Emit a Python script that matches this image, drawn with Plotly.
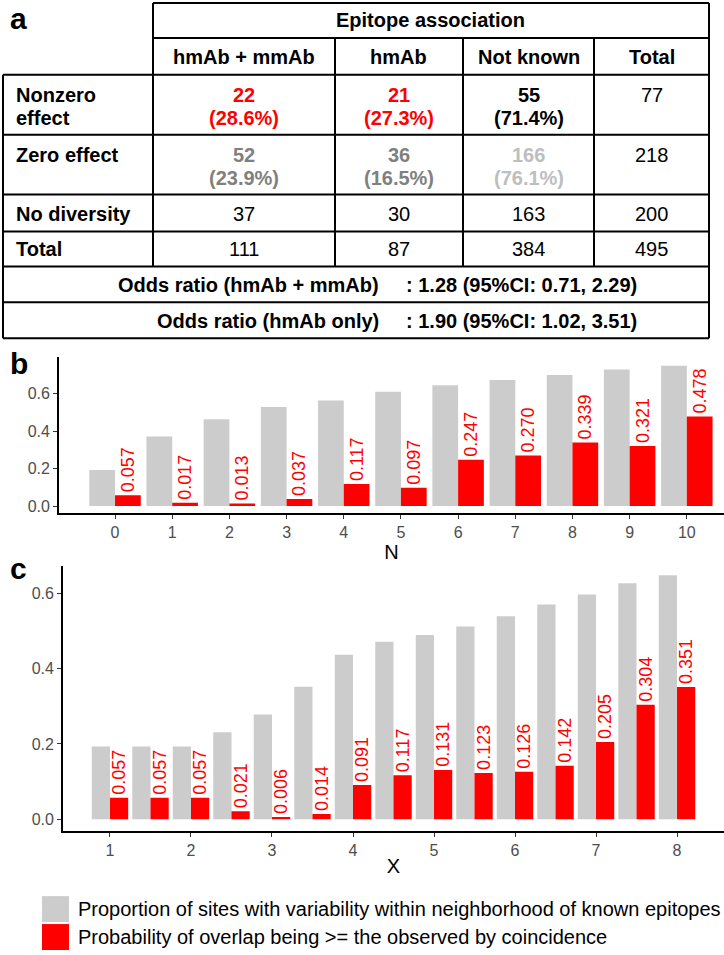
import plotly.graph_objects as go

# ---------------- data ----------------
col_headers = ["hmAb + mmAb", "hmAb", "Not known", "Total"]
row_labels = ["Nonzero<br>effect", "Zero effect", "No diversity", "Total"]
nonzero_counts = [22, 21, 55, 77]
nonzero_pct = ["(28.6%)", "(27.3%)", "(71.4%)", ""]
zero_counts = [52, 36, 166, 218]
zero_pct = ["(23.9%)", "(16.5%)", "(76.1%)", ""]
nodiv_counts = [37, 30, 163, 200]
total_counts = [111, 87, 384, 495]
odds_labels = ["Odds ratio (hmAb + mmAb)", "Odds ratio (hmAb only)"]
odds_values = [": 1.28 (95%CI: 0.71, 2.29)", ": 1.90 (95%CI: 1.02, 3.51)"]

b_N = [0, 1, 2, 3, 4, 5, 6, 7, 8, 9, 10]
b_prop = [0.193, 0.372, 0.464, 0.529, 0.564, 0.611, 0.646, 0.673, 0.700, 0.730, 0.750]
b_prob = [0.057, 0.017, 0.013, 0.037, 0.117, 0.097, 0.247, 0.270, 0.339, 0.321, 0.478]

c_X = [1, 1.5, 2, 2.5, 3, 3.5, 4, 4.5, 5, 5.5, 6, 6.5, 7, 7.5, 8]
c_prop = [0.193, 0.193, 0.193, 0.231, 0.278, 0.352, 0.437, 0.471, 0.489, 0.512,
          0.539, 0.570, 0.597, 0.627, 0.648]
c_prob = [0.057, 0.057, 0.057, 0.021, 0.006, 0.014, 0.091, 0.117, 0.131, 0.123,
          0.126, 0.142, 0.205, 0.304, 0.351]

legend_labels = ["Proportion of sites with variability within neighborhood of known epitopes",
                 "Probability of overlap being >= the observed by coincidence"]

# ---------------- style ----------------
W, H = 724, 955
FONT = "Liberation Sans, Arial, Helvetica, sans-serif"
GREY = "#CCCCCC"
RED = "#FF0000"
DARKGREY = "#808080"
LIGHTGREY = "#BEBEBE"


def px(x):
    return x / W


def py(y):
    return 1 - y / H


fig = go.Figure()

# ---------------- bars ----------------
fig.add_trace(go.Bar(x=b_N, y=b_prop, marker_color=GREY, marker_line_width=0,
                     xaxis="x", yaxis="y", showlegend=False, hoverinfo="skip"))
fig.add_trace(go.Bar(x=b_N, y=b_prob, marker_color=RED, marker_line_width=0,
                     text=[f"{v:.3f}" for v in b_prob], textposition="outside",
                     textangle=-90, constraintext="none", cliponaxis=False,
                     textfont=dict(color=RED, size=18, family=FONT),
                     xaxis="x", yaxis="y", showlegend=False, hoverinfo="skip"))
fig.add_trace(go.Bar(x=c_X, y=c_prop, marker_color=GREY, marker_line_width=0,
                     xaxis="x2", yaxis="y2", showlegend=False, hoverinfo="skip"))
fig.add_trace(go.Bar(x=c_X, y=c_prob, marker_color=RED, marker_line_width=0,
                     text=[f"{v:.3f}" for v in c_prob], textposition="outside",
                     textangle=-90, constraintext="none", cliponaxis=False,
                     textfont=dict(color=RED, size=18, family=FONT),
                     xaxis="x2", yaxis="y2", showlegend=False, hoverinfo="skip"))

axis_common = dict(showline=True, linecolor="black", linewidth=1.8, ticks="outside",
                   ticklen=4, tickwidth=1.4, tickcolor="#333333", showgrid=False,
                   zeroline=False, tickfont=dict(size=16, color="#4D4D4D", family=FONT))

fig.update_layout(
    width=W, height=H, margin=dict(l=0, r=0, t=0, b=0),
    paper_bgcolor="white", plot_bgcolor="white",
    font=dict(family=FONT, color="black"),
    barmode="group", bargap=0.1, bargroupgap=0,
    xaxis=dict(domain=[px(59), 1], range=[-0.98, 10.65], tickvals=b_N,
               title=dict(text="N", font=dict(size=20, color="black"), standoff=1),
               anchor="y", **axis_common),
    yaxis=dict(domain=[py(514), py(358)], range=[-0.037, 0.795],
               tickvals=[0, 0.2, 0.4, 0.6], tickformat=".1f", anchor="x", **axis_common),
    xaxis2=dict(domain=[px(63), 1], range=[0.42, 8.58], tickvals=[1, 2, 3, 4, 5, 6, 7, 8],
                title=dict(text="X", font=dict(size=20, color="black"), standoff=1),
                anchor="y2", **axis_common),
    yaxis2=dict(domain=[py(833), py(567)], range=[-0.032, 0.673],
                tickvals=[0, 0.2, 0.4, 0.6], tickformat=".1f", anchor="x2", **axis_common),
)

# ---------------- table (panel a) ----------------
shapes = []
LW = 2


def hline(y, x0, x1):
    shapes.append(dict(type="line", xref="paper", yref="paper", x0=px(x0), x1=px(x1),
                       y0=py(y), y1=py(y), line=dict(color="black", width=LW)))


def vline(x, y0, y1):
    shapes.append(dict(type="line", xref="paper", yref="paper", x0=px(x), x1=px(x),
                       y0=py(y0), y1=py(y1), line=dict(color="black", width=LW)))


col_x = [3, 153, 335, 463, 594, 709]
row_y = [3, 38, 75, 135, 195, 232, 267, 303, 339]

hline(row_y[0], col_x[1], col_x[5])
hline(row_y[1], col_x[1], col_x[5])
for yy in row_y[2:]:
    hline(yy, col_x[0], col_x[5])
vline(col_x[0], row_y[2], row_y[8])
vline(col_x[1], row_y[0], row_y[6])
for xx in col_x[2:5]:
    vline(xx, row_y[1], row_y[6])
vline(col_x[5], row_y[0], row_y[8])

ann = []
TS = 20


def txt(x, y, s, color="black", bold=False, size=TS, xanchor="center", font=FONT):
    if bold:
        s = f"<b>{s}</b>"
    ann.append(dict(xref="paper", yref="paper", x=px(x), y=py(y), text=s, showarrow=False,
                    xanchor=xanchor, yanchor="middle",
                    font=dict(size=size, color=color, family=font)))


centers = [(col_x[i] + col_x[i + 1]) / 2 for i in range(1, 5)]

# panel letters
txt(8, 19, "a", bold=True, size=30, xanchor="left")
txt(8, 364, "b", bold=True, size=30, xanchor="left")
txt(8, 570, "c", bold=True, size=30, xanchor="left")

# headers
txt((col_x[1] + col_x[5]) / 2, 20, "Epitope association", bold=True)
for cx, h in zip(centers, col_headers):
    txt(cx, 57, h, bold=True)

# row labels
txt(14, 95, "Nonzero", bold=True, xanchor="left")
txt(14, 118, "effect", bold=True, xanchor="left")
txt(14, 155, row_labels[1], bold=True, xanchor="left")
txt(14, 214, row_labels[2], bold=True, xanchor="left")
txt(14, 250, row_labels[3], bold=True, xanchor="left")

nz_colors = [RED, RED, "black"]
z_colors = [DARKGREY, DARKGREY, LIGHTGREY]
for i in range(3):
    txt(centers[i], 95, str(nonzero_counts[i]), color=nz_colors[i], bold=True)
    txt(centers[i], 118, nonzero_pct[i], color=nz_colors[i], bold=True)
    txt(centers[i], 155, str(zero_counts[i]), color=z_colors[i], bold=True)
    txt(centers[i], 178, zero_pct[i], color=z_colors[i], bold=True)
txt(centers[3], 95, str(nonzero_counts[3]))
txt(centers[3], 155, str(zero_counts[3]))
for i in range(4):
    txt(centers[i], 214, str(nodiv_counts[i]))
    txt(centers[i], 250, str(total_counts[i]))

for k, yy in enumerate([286, 322]):
    txt(381, yy, odds_labels[k], bold=True, xanchor="right")
    txt(404, yy, odds_values[k], bold=True, xanchor="left")

# ---------------- legend ----------------
for (y0, y1), col, lab in zip([(898, 924), (926, 952)], [GREY, RED], legend_labels):
    shapes.append(dict(type="rect", xref="paper", yref="paper", x0=px(42), x1=px(69),
                       y0=py(y1), y1=py(y0), fillcolor=col, line=dict(width=0)))
    txt(76, (y0 + y1) / 2, lab, xanchor="left", size=20)

fig.update_layout(shapes=shapes, annotations=ann)
fig.write_html("out.html", config={"displayModeBar": False},
               post_script="document.body.style.margin='0px';")
